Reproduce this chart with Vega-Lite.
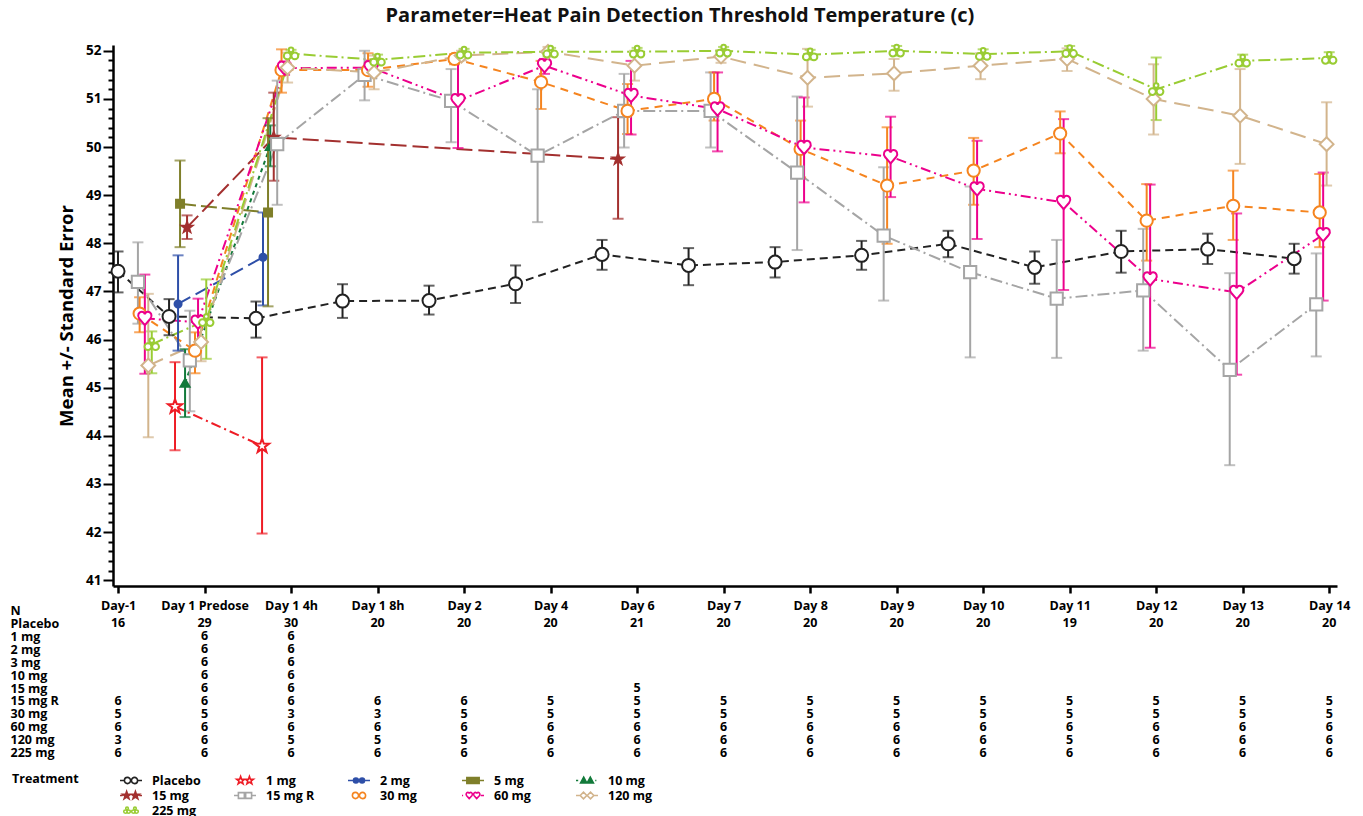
{
"$schema": "https://vega.github.io/schema/vega-lite/v6.json",
"padding": {"left": 10, "top": 5, "right": 10, "bottom": 0},
"title": {"text": "Parameter=Heat Pain Detection Threshold Temperature (c)", "font": "Open Sans", "fontSize": 20, "fontWeight": "bold", "color": "#111", "anchor": "middle", "offset": 15},
"config": {"view": {"stroke": null}, "font": "Open Sans", "axis": {"domainColor": "black", "tickColor": "black", "labelColor": "black", "titleColor": "black", "grid": false}},
"datasets": {
"pts": [
{"trt":"Placebo","t":0,"m":47.42,"lo":46.98,"hi":47.83},
{"trt":"Placebo","t":0.59,"m":46.48,"lo":46.09,"hi":46.84},
{"trt":"Placebo","t":1.595,"m":46.44,"lo":46.04,"hi":46.79},
{"trt":"Placebo","t":2.595,"m":46.8,"lo":46.45,"hi":47.15},
{"trt":"Placebo","t":3.595,"m":46.81,"lo":46.52,"hi":47.12},
{"trt":"Placebo","t":4.595,"m":47.16,"lo":46.76,"hi":47.54},
{"trt":"Placebo","t":5.595,"m":47.77,"lo":47.45,"hi":48.07},
{"trt":"Placebo","t":6.595,"m":47.54,"lo":47.13,"hi":47.9},
{"trt":"Placebo","t":7.595,"m":47.61,"lo":47.29,"hi":47.92},
{"trt":"Placebo","t":8.595,"m":47.75,"lo":47.45,"hi":48.05},
{"trt":"Placebo","t":9.595,"m":47.99,"lo":47.71,"hi":48.26},
{"trt":"Placebo","t":10.595,"m":47.5,"lo":47.16,"hi":47.83},
{"trt":"Placebo","t":11.595,"m":47.83,"lo":47.39,"hi":48.26},
{"trt":"Placebo","t":12.595,"m":47.88,"lo":47.57,"hi":48.2},
{"trt":"Placebo","t":13.595,"m":47.68,"lo":47.37,"hi":47.99},
{"trt":"1 mg","t":0.659,"m":44.61,"lo":43.7,"hi":45.53},
{"trt":"1 mg","t":1.665,"m":43.79,"lo":41.97,"hi":45.63},
{"trt":"2 mg","t":0.694,"m":46.74,"lo":45.77,"hi":47.75},
{"trt":"2 mg","t":1.676,"m":47.71,"lo":46.71,"hi":48.64},
{"trt":"5 mg","t":0.717,"m":48.82,"lo":47.92,"hi":49.72},
{"trt":"5 mg","t":1.734,"m":48.64,"lo":46.69,"hi":50.6},
{"trt":"10 mg","t":0.775,"m":45.1,"lo":44.39,"hi":45.8},
{"trt":"10 mg","t":1.76,"m":50.02,"lo":49.6,"hi":50.45},
{"trt":"15 mg","t":0.798,"m":48.33,"lo":48.09,"hi":48.58},
{"trt":"15 mg","t":1.8,"m":50.2,"lo":49.3,"hi":51.13},
{"trt":"15 mg","t":5.78,"m":49.75,"lo":48.51,"hi":50.62},
{"trt":"15 mg R","t":0.23,"m":47.2,"lo":46.33,"hi":48.02},
{"trt":"15 mg R","t":0.83,"m":45.57,"lo":44.51,"hi":46.6},
{"trt":"15 mg R","t":1.84,"m":50.06,"lo":48.8,"hi":51.38},
{"trt":"15 mg R","t":2.85,"m":51.5,"lo":50.97,"hi":52.0},
{"trt":"15 mg R","t":3.85,"m":50.96,"lo":50.1,"hi":51.62},
{"trt":"15 mg R","t":4.85,"m":49.82,"lo":48.44,"hi":51.2},
{"trt":"15 mg R","t":5.85,"m":50.75,"lo":49.99,"hi":51.52},
{"trt":"15 mg R","t":6.85,"m":50.75,"lo":49.99,"hi":51.55},
{"trt":"15 mg R","t":7.85,"m":49.47,"lo":47.86,"hi":51.05},
{"trt":"15 mg R","t":8.85,"m":48.16,"lo":46.81,"hi":49.58},
{"trt":"15 mg R","t":9.85,"m":47.4,"lo":45.63,"hi":49.18},
{"trt":"15 mg R","t":10.85,"m":46.85,"lo":45.62,"hi":48.07},
{"trt":"15 mg R","t":11.85,"m":47.02,"lo":45.77,"hi":48.3},
{"trt":"15 mg R","t":12.85,"m":45.37,"lo":43.39,"hi":47.38},
{"trt":"15 mg R","t":13.85,"m":46.73,"lo":45.65,"hi":47.79},
{"trt":"30 mg","t":0.25,"m":46.54,"lo":46.15,"hi":46.88},
{"trt":"30 mg","t":0.89,"m":45.77,"lo":45.3,"hi":46.15},
{"trt":"30 mg","t":1.89,"m":51.6,"lo":51.13,"hi":52.03},
{"trt":"30 mg","t":2.89,"m":51.6,"lo":51.25,"hi":51.95},
{"trt":"30 mg","t":3.89,"m":51.83,"lo":51.72,"hi":51.93},
{"trt":"30 mg","t":4.89,"m":51.35,"lo":50.79,"hi":51.79},
{"trt":"30 mg","t":5.89,"m":50.75,"lo":50.27,"hi":51.31},
{"trt":"30 mg","t":6.89,"m":51.0,"lo":50.55,"hi":51.55},
{"trt":"30 mg","t":7.89,"m":49.96,"lo":49.37,"hi":50.55},
{"trt":"30 mg","t":8.89,"m":49.2,"lo":47.99,"hi":50.41},
{"trt":"30 mg","t":9.89,"m":49.51,"lo":48.8,"hi":50.19},
{"trt":"30 mg","t":10.89,"m":50.28,"lo":49.87,"hi":50.74},
{"trt":"30 mg","t":11.89,"m":48.47,"lo":47.64,"hi":49.23},
{"trt":"30 mg","t":12.89,"m":48.78,"lo":48.07,"hi":49.51},
{"trt":"30 mg","t":13.89,"m":48.64,"lo":47.92,"hi":49.44},
{"trt":"60 mg","t":0.31,"m":46.44,"lo":45.29,"hi":47.35},
{"trt":"60 mg","t":0.925,"m":46.36,"lo":45.85,"hi":46.85},
{"trt":"60 mg","t":1.925,"m":51.64,"lo":51.5,"hi":51.78},
{"trt":"60 mg","t":2.925,"m":51.65,"lo":51.5,"hi":51.8},
{"trt":"60 mg","t":3.93,"m":50.96,"lo":49.98,"hi":51.79},
{"trt":"60 mg","t":4.93,"m":51.69,"lo":51.52,"hi":51.83},
{"trt":"60 mg","t":5.93,"m":51.07,"lo":50.26,"hi":51.79},
{"trt":"60 mg","t":6.93,"m":50.79,"lo":49.91,"hi":51.55},
{"trt":"60 mg","t":7.93,"m":49.99,"lo":48.85,"hi":51.03},
{"trt":"60 mg","t":8.93,"m":49.8,"lo":48.96,"hi":50.63},
{"trt":"60 mg","t":9.93,"m":49.13,"lo":48.09,"hi":50.13},
{"trt":"60 mg","t":10.93,"m":48.85,"lo":47.03,"hi":50.58},
{"trt":"60 mg","t":11.93,"m":47.26,"lo":45.83,"hi":49.22},
{"trt":"60 mg","t":12.93,"m":46.98,"lo":45.27,"hi":48.62},
{"trt":"60 mg","t":13.93,"m":48.18,"lo":46.81,"hi":49.47},
{"trt":"120 mg","t":0.35,"m":45.46,"lo":43.97,"hi":46.95},
{"trt":"120 mg","t":0.96,"m":45.95,"lo":45.55,"hi":46.35},
{"trt":"120 mg","t":1.96,"m":51.65,"lo":51.34,"hi":51.96},
{"trt":"120 mg","t":2.96,"m":51.55,"lo":51.2,"hi":51.9},
{"trt":"120 mg","t":3.97,"m":51.9,"lo":51.8,"hi":52.0},
{"trt":"120 mg","t":4.97,"m":51.98,"lo":51.88,"hi":52.08},
{"trt":"120 mg","t":5.97,"m":51.69,"lo":51.38,"hi":52.0},
{"trt":"120 mg","t":6.97,"m":51.88,"lo":51.75,"hi":52.01},
{"trt":"120 mg","t":7.97,"m":51.44,"lo":50.84,"hi":52.04},
{"trt":"120 mg","t":8.97,"m":51.53,"lo":51.17,"hi":51.83},
{"trt":"120 mg","t":9.97,"m":51.69,"lo":51.41,"hi":51.95},
{"trt":"120 mg","t":10.97,"m":51.83,"lo":51.58,"hi":52.05},
{"trt":"120 mg","t":11.97,"m":51.0,"lo":50.26,"hi":51.72},
{"trt":"120 mg","t":12.97,"m":50.65,"lo":49.65,"hi":51.62},
{"trt":"120 mg","t":13.97,"m":50.06,"lo":49.2,"hi":50.93},
{"trt":"225 mg","t":0.39,"m":45.9,"lo":45.3,"hi":46.17},
{"trt":"225 mg","t":1.02,"m":46.4,"lo":45.6,"hi":47.25},
{"trt":"225 mg","t":2.0,"m":51.94,"lo":51.86,"hi":52.02},
{"trt":"225 mg","t":3.0,"m":51.81,"lo":51.7,"hi":51.92},
{"trt":"225 mg","t":4.0,"m":51.96,"lo":51.88,"hi":52.04},
{"trt":"225 mg","t":5.0,"m":51.98,"lo":51.9,"hi":52.06},
{"trt":"225 mg","t":6.0,"m":51.98,"lo":51.9,"hi":52.06},
{"trt":"225 mg","t":7.0,"m":52.0,"lo":51.92,"hi":52.08},
{"trt":"225 mg","t":8.0,"m":51.92,"lo":51.82,"hi":52.02},
{"trt":"225 mg","t":9.0,"m":52.0,"lo":51.9,"hi":52.1},
{"trt":"225 mg","t":10.0,"m":51.93,"lo":51.83,"hi":52.03},
{"trt":"225 mg","t":11.0,"m":51.99,"lo":51.88,"hi":52.1},
{"trt":"225 mg","t":12.0,"m":51.2,"lo":50.56,"hi":51.86},
{"trt":"225 mg","t":13.0,"m":51.79,"lo":51.68,"hi":51.92},
{"trt":"225 mg","t":14.0,"m":51.85,"lo":51.75,"hi":51.97}
],
"nt": [
{"r":"Placebo","v":0,"n":16},{"r":"Placebo","v":1,"n":29},{"r":"Placebo","v":2,"n":30},{"r":"Placebo","v":3,"n":20},{"r":"Placebo","v":4,"n":20},{"r":"Placebo","v":5,"n":20},{"r":"Placebo","v":6,"n":21},{"r":"Placebo","v":7,"n":20},{"r":"Placebo","v":8,"n":20},{"r":"Placebo","v":9,"n":20},{"r":"Placebo","v":10,"n":20},{"r":"Placebo","v":11,"n":19},{"r":"Placebo","v":12,"n":20},{"r":"Placebo","v":13,"n":20},{"r":"Placebo","v":14,"n":20},
{"r":"1 mg","v":1,"n":6},{"r":"1 mg","v":2,"n":6},
{"r":"2 mg","v":1,"n":6},{"r":"2 mg","v":2,"n":6},
{"r":"3 mg","v":1,"n":6},{"r":"3 mg","v":2,"n":6},
{"r":"10 mg","v":1,"n":6},{"r":"10 mg","v":2,"n":6},
{"r":"15 mg","v":1,"n":6},{"r":"15 mg","v":2,"n":6},{"r":"15 mg","v":6,"n":5},
{"r":"15 mg R","v":0,"n":6},{"r":"15 mg R","v":1,"n":6},{"r":"15 mg R","v":2,"n":6},{"r":"15 mg R","v":3,"n":6},{"r":"15 mg R","v":4,"n":6},{"r":"15 mg R","v":5,"n":5},{"r":"15 mg R","v":6,"n":5},{"r":"15 mg R","v":7,"n":5},{"r":"15 mg R","v":8,"n":5},{"r":"15 mg R","v":9,"n":5},{"r":"15 mg R","v":10,"n":5},{"r":"15 mg R","v":11,"n":5},{"r":"15 mg R","v":12,"n":5},{"r":"15 mg R","v":13,"n":5},{"r":"15 mg R","v":14,"n":5},
{"r":"30 mg","v":0,"n":5},{"r":"30 mg","v":1,"n":5},{"r":"30 mg","v":2,"n":3},{"r":"30 mg","v":3,"n":3},{"r":"30 mg","v":4,"n":5},{"r":"30 mg","v":5,"n":5},{"r":"30 mg","v":6,"n":5},{"r":"30 mg","v":7,"n":5},{"r":"30 mg","v":8,"n":5},{"r":"30 mg","v":9,"n":5},{"r":"30 mg","v":10,"n":5},{"r":"30 mg","v":11,"n":5},{"r":"30 mg","v":12,"n":5},{"r":"30 mg","v":13,"n":5},{"r":"30 mg","v":14,"n":5},
{"r":"60 mg","v":0,"n":6},{"r":"60 mg","v":1,"n":6},{"r":"60 mg","v":2,"n":6},{"r":"60 mg","v":3,"n":6},{"r":"60 mg","v":4,"n":6},{"r":"60 mg","v":5,"n":6},{"r":"60 mg","v":6,"n":6},{"r":"60 mg","v":7,"n":6},{"r":"60 mg","v":8,"n":6},{"r":"60 mg","v":9,"n":6},{"r":"60 mg","v":10,"n":6},{"r":"60 mg","v":11,"n":6},{"r":"60 mg","v":12,"n":6},{"r":"60 mg","v":13,"n":6},{"r":"60 mg","v":14,"n":6},
{"r":"120 mg","v":0,"n":3},{"r":"120 mg","v":1,"n":6},{"r":"120 mg","v":2,"n":5},{"r":"120 mg","v":3,"n":5},{"r":"120 mg","v":4,"n":5},{"r":"120 mg","v":5,"n":6},{"r":"120 mg","v":6,"n":6},{"r":"120 mg","v":7,"n":6},{"r":"120 mg","v":8,"n":6},{"r":"120 mg","v":9,"n":6},{"r":"120 mg","v":10,"n":6},{"r":"120 mg","v":11,"n":5},{"r":"120 mg","v":12,"n":6},{"r":"120 mg","v":13,"n":6},{"r":"120 mg","v":14,"n":6},
{"r":"225 mg","v":0,"n":6},{"r":"225 mg","v":1,"n":6},{"r":"225 mg","v":2,"n":6},{"r":"225 mg","v":3,"n":6},{"r":"225 mg","v":4,"n":6},{"r":"225 mg","v":5,"n":6},{"r":"225 mg","v":6,"n":6},{"r":"225 mg","v":7,"n":6},{"r":"225 mg","v":8,"n":6},{"r":"225 mg","v":9,"n":6},{"r":"225 mg","v":10,"n":6},{"r":"225 mg","v":11,"n":6},{"r":"225 mg","v":12,"n":6},{"r":"225 mg","v":13,"n":6},{"r":"225 mg","v":14,"n":6}
],
"leg": [{"trt":"Placebo"},{"trt":"1 mg"},{"trt":"2 mg"},{"trt":"5 mg"},{"trt":"10 mg"},{"trt":"15 mg"},{"trt":"15 mg R"},{"trt":"30 mg"},{"trt":"60 mg"},{"trt":"120 mg"},{"trt":"225 mg"}]
},
"vconcat": [
{
"width": 1224, "height": 541,
"data": {"name": "pts"},
"layer": [
{
"mark": {"type": "line", "strokeWidth": 2},
"encoding": {
"x": {"field": "t", "type": "quantitative", "title": "N", "scale": {"domain": [-0.058, 14.09], "nice": false, "zero": false},
 "axis": {"values": [0,1,2,3,4,5,6,7,8,9,10,11,12,13,14], "labelExpr": "['Day-1','Day 1 Predose','Day 1 4h','Day 1 8h','Day 2','Day 4','Day 6','Day 7','Day 8','Day 9','Day 10','Day 11','Day 12','Day 13','Day 14'][datum.value]", "labelFlush": false, "labelOverlap": false, "labelFont": "Open Sans", "labelFontSize": 12.5, "labelFontWeight": "bold", "labelPadding": 6, "tickSize": 7, "tickWidth": 2.5, "domainWidth": 2.5, "titleFont": "Open Sans", "titleFontSize": 12.5, "titleFontWeight": "bold", "titleX": -103, "titleY": 24, "titleAlign": "left", "titleBaseline": "middle", "titleAnchor": "start"}},
"y": {"field": "m", "type": "quantitative", "title": "Mean +/- Standard Error", "scale": {"domain": [40.88, 52.12], "nice": false, "zero": false},
 "axis": {"values": [41,41.2,41.4,41.6,41.8,42,42.2,42.4,42.6,42.8,43,43.2,43.4,43.6,43.8,44,44.2,44.4,44.6,44.8,45,45.2,45.4,45.6,45.8,46,46.2,46.4,46.6,46.8,47,47.2,47.4,47.6,47.8,48,48.2,48.4,48.6,48.8,49,49.2,49.4,49.6,49.8,50,50.2,50.4,50.6,50.8,51,51.2,51.4,51.6,51.8,52], "labelExpr": "datum.value % 1 === 0 ? format(datum.value, 'd') : ''", "labelFlush": false, "labelOverlap": false, "labelFont": "Open Sans", "labelFontSize": 13.5, "labelFontWeight": "bold", "labelPadding": 2, "tickSize": {"condition": {"test": "datum.value % 1 === 0", "value": 10}, "value": 5}, "tickWidth": 2, "domainWidth": 2.5, "titleFont": "Open Sans", "titleFontSize": 18.5, "titleFontWeight": "bold", "titlePadding": 9}},
"color": {"field": "trt", "type": "nominal", "legend": null, "scale": {"domain": ["Placebo","1 mg","2 mg","5 mg","10 mg","15 mg","15 mg R","30 mg","60 mg","120 mg","225 mg"], "range": ["#222222","#ee1c25","#2e4fa8","#7f7f2a","#127a3a","#a3302f","#a5a5a5","#f5841f","#ec008c","#d2b48c","#99cc33"]}},
"strokeDash": {"field": "trt", "type": "nominal", "legend": null, "scale": {"domain": ["Placebo","1 mg","2 mg","5 mg","10 mg","15 mg","15 mg R","30 mg","60 mg","120 mg","225 mg"], "range": [[8,5],[10,4,2,4],[14,6],[16,5],[4,4],[16,6],[12,4,2,4],[8,6],[10,4,2,4,2,4],[16,8],[12,4,2,4]]}}
}
},
{
"mark": {"type": "errorbar", "ticks": true, "size": 11, "thickness": 2},
"encoding": {
"x": {"field": "t", "type": "quantitative", "title": "N",
 "axis": {"values": [0,1,2,3,4,5,6,7,8,9,10,11,12,13,14], "labelExpr": "['Day-1','Day 1 Predose','Day 1 4h','Day 1 8h','Day 2','Day 4','Day 6','Day 7','Day 8','Day 9','Day 10','Day 11','Day 12','Day 13','Day 14'][datum.value]", "labelFlush": false, "labelOverlap": false, "labelFont": "Open Sans", "labelFontSize": 12.5, "labelFontWeight": "bold", "labelPadding": 6, "tickSize": 7, "tickWidth": 2.5, "domainWidth": 2.5, "titleFont": "Open Sans", "titleFontSize": 12.5, "titleFontWeight": "bold", "titleX": -103, "titleY": 24, "titleAlign": "left", "titleBaseline": "middle", "titleAnchor": "start"}},
"y": {"field": "lo", "type": "quantitative", "title": "Mean +/- Standard Error",
 "axis": {"values": [41,41.2,41.4,41.6,41.8,42,42.2,42.4,42.6,42.8,43,43.2,43.4,43.6,43.8,44,44.2,44.4,44.6,44.8,45,45.2,45.4,45.6,45.8,46,46.2,46.4,46.6,46.8,47,47.2,47.4,47.6,47.8,48,48.2,48.4,48.6,48.8,49,49.2,49.4,49.6,49.8,50,50.2,50.4,50.6,50.8,51,51.2,51.4,51.6,51.8,52], "labelExpr": "datum.value % 1 === 0 ? format(datum.value, 'd') : ''", "labelFlush": false, "labelOverlap": false, "labelFont": "Open Sans", "labelFontSize": 13.5, "labelFontWeight": "bold", "labelPadding": 2, "tickSize": {"condition": {"test": "datum.value % 1 === 0", "value": 10}, "value": 5}, "tickWidth": 2, "domainWidth": 2.5, "titleFont": "Open Sans", "titleFontSize": 18.5, "titleFontWeight": "bold", "titlePadding": 9}},
"y2": {"field": "hi"},
"color": {"field": "trt", "type": "nominal", "legend": null}
}
},
{
"mark": {"type": "point", "strokeWidth": 2, "opacity": 1},
"encoding": {
"x": {"field": "t", "type": "quantitative", "title": "N",
 "axis": {"values": [0,1,2,3,4,5,6,7,8,9,10,11,12,13,14], "labelExpr": "['Day-1','Day 1 Predose','Day 1 4h','Day 1 8h','Day 2','Day 4','Day 6','Day 7','Day 8','Day 9','Day 10','Day 11','Day 12','Day 13','Day 14'][datum.value]", "labelFlush": false, "labelOverlap": false, "labelFont": "Open Sans", "labelFontSize": 12.5, "labelFontWeight": "bold", "labelPadding": 6, "tickSize": 7, "tickWidth": 2.5, "domainWidth": 2.5, "titleFont": "Open Sans", "titleFontSize": 12.5, "titleFontWeight": "bold", "titleX": -103, "titleY": 24, "titleAlign": "left", "titleBaseline": "middle", "titleAnchor": "start"}},
"y": {"field": "m", "type": "quantitative", "title": "Mean +/- Standard Error",
 "axis": {"values": [41,41.2,41.4,41.6,41.8,42,42.2,42.4,42.6,42.8,43,43.2,43.4,43.6,43.8,44,44.2,44.4,44.6,44.8,45,45.2,45.4,45.6,45.8,46,46.2,46.4,46.6,46.8,47,47.2,47.4,47.6,47.8,48,48.2,48.4,48.6,48.8,49,49.2,49.4,49.6,49.8,50,50.2,50.4,50.6,50.8,51,51.2,51.4,51.6,51.8,52], "labelExpr": "datum.value % 1 === 0 ? format(datum.value, 'd') : ''", "labelFlush": false, "labelOverlap": false, "labelFont": "Open Sans", "labelFontSize": 13.5, "labelFontWeight": "bold", "labelPadding": 2, "tickSize": {"condition": {"test": "datum.value % 1 === 0", "value": 10}, "value": 5}, "tickWidth": 2, "domainWidth": 2.5, "titleFont": "Open Sans", "titleFontSize": 18.5, "titleFontWeight": "bold", "titlePadding": 9}},
"stroke": {"field": "trt", "type": "nominal", "legend": null, "scale": {"domain": ["Placebo","1 mg","2 mg","5 mg","10 mg","15 mg","15 mg R","30 mg","60 mg","120 mg","225 mg"], "range": ["#222222","#ee1c25","#2e4fa8","#7f7f2a","#127a3a","#a3302f","#a5a5a5","#f5841f","#ec008c","#d2b48c","#99cc33"]}},
"fill": {"field": "trt", "type": "nominal", "legend": null, "scale": {"domain": ["Placebo","1 mg","2 mg","5 mg","10 mg","15 mg","15 mg R","30 mg","60 mg","120 mg","225 mg"], "range": ["#ffffff","#ffffff","#2e4fa8","#7f7f2a","#127a3a","#a3302f","#ffffff","#ffffff","#ffffff","#ffffff","#ffffff"]}},
"shape": {"field": "trt", "type": "nominal", "legend": null, "scale": {"domain": ["Placebo","1 mg","2 mg","5 mg","10 mg","15 mg","15 mg R","30 mg","60 mg","120 mg","225 mg"], "range": ["circle","M0,-1L0.235,-0.324L0.951,-0.309L0.38,0.124L0.588,0.809L0,0.4L-0.588,0.809L-0.38,0.124L-0.951,-0.309L-0.235,-0.324Z","circle","square","triangle-up","M0,-1L0.235,-0.324L0.951,-0.309L0.38,0.124L0.588,0.809L0,0.4L-0.588,0.809L-0.38,0.124L-0.951,-0.309L-0.235,-0.324Z","square","circle","M0,0.95L-0.78,0.05C-1.15,-0.4 -0.85,-0.95 -0.42,-0.95C-0.18,-0.95 -0.05,-0.8 0,-0.6C0.05,-0.8 0.18,-0.95 0.42,-0.95C0.85,-0.95 1.15,-0.4 0.78,0.05Z","diamond","M-0.95,0.3A0.45,0.45 0 1 0 -0.05,0.3A0.45,0.45 0 1 0 -0.95,0.3ZM0.05,0.3A0.45,0.45 0 1 0 0.95,0.3A0.45,0.45 0 1 0 0.05,0.3ZM-0.3,-0.5A0.3,0.3 0 1 0 0.3,-0.5A0.3,0.3 0 1 0 -0.3,-0.5Z"]}},
"size": {"field": "trt", "type": "nominal", "legend": null, "scale": {"type": "ordinal", "domain": ["Placebo","1 mg","2 mg","5 mg","10 mg","15 mg","15 mg R","30 mg","60 mg","120 mg","225 mg"], "range": [170,220,50,64,80,120,150,150,200,190,230]}}
}
}
]
},
{
"width": 1224, "height": 142,
"layer": [
{
"data": {"name": "nt"},
"mark": {"type": "text", "font": "Open Sans", "fontSize": 12.5, "fontWeight": "bold", "color": "black"},
"encoding": {
"x": {"field": "v", "type": "quantitative", "scale": {"domain": [-0.058, 14.09], "nice": false, "zero": false}, "axis": null},
"y": {"field": "r", "type": "ordinal", "sort": ["Placebo","1 mg","2 mg","3 mg","10 mg","15 mg","15 mg R","30 mg","60 mg","120 mg","225 mg"], "scale": {"type": "point", "domain": ["Placebo","1 mg","2 mg","3 mg","10 mg","15 mg","15 mg R","30 mg","60 mg","120 mg","225 mg"], "padding": 0.5}, "axis": {"title": null, "domain": false, "ticks": false, "labelAlign": "left", "labelPadding": 103, "labelFont": "Open Sans", "labelFontSize": 12.5, "labelFontWeight": "bold", "labelColor": "black", "labelOverlap": false}},
"text": {"field": "n", "type": "quantitative"}
}
},
{
"data": {"name": "leg"},
"mark": {"type": "point", "opacity": 0, "strokeWidth": 1.6},
"encoding": {
"stroke": {"field": "trt", "type": "nominal", "scale": {"domain": ["Placebo","1 mg","2 mg","5 mg","10 mg","15 mg","15 mg R","30 mg","60 mg","120 mg","225 mg"], "range": ["#222222","#ee1c25","#2e4fa8","#7f7f2a","#127a3a","#a3302f","#a5a5a5","#f5841f","#ec008c","#d2b48c","#99cc33"]},
 "legend": {"orient": "none", "legendX": -101, "legendY": 156, "direction": "horizontal", "title": "Treatment", "titleOrient": "left", "titleAnchor": "start", "titlePadding": 40, "columns": 5, "gridAlign": "all", "columnPadding": 32, "rowPadding": 0, "clipHeight": 15, "symbolSize": 484, "symbolStrokeWidth": 1.6, "symbolOpacity": 1, "labelFont": "Open Sans", "labelFontSize": 12.5, "labelFontWeight": "bold", "labelColor": "black", "labelOffset": 9, "titleFont": "Open Sans", "titleFontSize": 12.5, "titleFontWeight": "bold", "titleColor": "black"}},
"fill": {"field": "trt", "type": "nominal", "scale": {"domain": ["Placebo","1 mg","2 mg","5 mg","10 mg","15 mg","15 mg R","30 mg","60 mg","120 mg","225 mg"], "range": ["#ffffff","#ffffff","#2e4fa8","#7f7f2a","#127a3a","#a3302f","#ffffff","#ffffff","#ffffff","#ffffff","#ffffff"]},
 "legend": {"orient": "none", "legendX": -101, "legendY": 156, "direction": "horizontal", "title": "Treatment", "titleOrient": "left", "titleAnchor": "start", "titlePadding": 40, "columns": 5, "gridAlign": "all", "columnPadding": 32, "rowPadding": 0, "clipHeight": 15, "symbolSize": 484, "symbolStrokeWidth": 1.6, "symbolOpacity": 1, "labelFont": "Open Sans", "labelFontSize": 12.5, "labelFontWeight": "bold", "labelColor": "black", "labelOffset": 9, "titleFont": "Open Sans", "titleFontSize": 12.5, "titleFontWeight": "bold", "titleColor": "black"}},
"shape": {"field": "trt", "type": "nominal", "scale": {"domain": ["Placebo","1 mg","2 mg","5 mg","10 mg","15 mg","15 mg R","30 mg","60 mg","120 mg","225 mg"], "range": [
"M-1,0L-0.6,0M0.6,0L1,0M-0.6,0A0.28,0.28 0 1 0 -0.04,0A0.28,0.28 0 1 0 -0.6,0ZM0.04,0A0.28,0.28 0 1 0 0.6,0A0.28,0.28 0 1 0 0.04,0Z",
"M-0.4,-0.38L-0.311,-0.123L-0.039,-0.117L-0.256,0.047L-0.177,0.307L-0.4,0.152L-0.623,0.307L-0.544,0.047L-0.761,-0.117L-0.489,-0.123ZM0.4,-0.38L0.489,-0.123L0.761,-0.117L0.544,0.047L0.623,0.307L0.4,0.152L0.177,0.307L0.256,0.047L0.039,-0.117L0.311,-0.123Z",
"M-1,0L-0.5,0M0.5,0L1,0M-0.5,0A0.22,0.22 0 1 0 -0.06,0A0.22,0.22 0 1 0 -0.5,0ZM0.06,0A0.22,0.22 0 1 0 0.5,0A0.22,0.22 0 1 0 0.06,0Z",
"M-1,0L-0.56,0M0.56,0L1,0M-0.56,-0.26L-0.04,-0.26L-0.04,0.26L-0.56,0.26ZM0.04,-0.26L0.56,-0.26L0.56,0.26L0.04,0.26Z",
"M-1,0L-0.8,0M0.75,0L0.85,0M-0.58,0.22L-0.3,-0.3L-0.02,0.22ZM0.02,0.22L0.3,-0.3L0.58,0.22Z",
"M-1,0L-0.76,0M0.76,0L1,0M-0.4,-0.38L-0.311,-0.123L-0.039,-0.117L-0.256,0.047L-0.177,0.307L-0.4,0.152L-0.623,0.307L-0.544,0.047L-0.761,-0.117L-0.489,-0.123ZM0.4,-0.38L0.489,-0.123L0.761,-0.117L0.544,0.047L0.623,0.307L0.4,0.152L0.177,0.307L0.256,0.047L0.039,-0.117L0.311,-0.123Z",
"M-1,0L-0.6,0M0.6,0L1,0M-0.6,-0.26L-0.06,-0.26L-0.06,0.26L-0.6,0.26ZM0.06,-0.26L0.6,-0.26L0.6,0.26L0.06,0.26Z",
"M-0.6,0A0.28,0.28 0 1 0 -0.04,0A0.28,0.28 0 1 0 -0.6,0ZM0.04,0A0.28,0.28 0 1 0 0.6,0A0.28,0.28 0 1 0 0.04,0Z",
"M-1,0L-0.9,0M0.7,0L1,0M-0.34,0.285L-0.574,0.015C-0.685,-0.12 -0.595,-0.285 -0.466,-0.285C-0.394,-0.285 -0.355,-0.24 -0.34,-0.18C-0.325,-0.24 -0.286,-0.285 -0.214,-0.285C-0.085,-0.285 0.005,-0.12 -0.106,0.015ZM0.34,0.285L0.106,0.015C-0.005,-0.12 0.085,-0.285 0.214,-0.285C0.286,-0.285 0.325,-0.24 0.34,-0.18C0.355,-0.24 0.394,-0.285 0.466,-0.285C0.595,-0.285 0.685,-0.12 0.574,0.015Z",
"M-1,0L-0.62,0M0.62,0L1,0M-0.62,0L-0.32,-0.3L-0.02,0L-0.32,0.3ZM0.02,0L0.32,-0.3L0.62,0L0.32,0.3Z",
"M-0.66,0.1A0.15,0.15 0 1 0 -0.36,0.1A0.15,0.15 0 1 0 -0.66,0.1ZM-0.36,0.1A0.15,0.15 0 1 0 -0.06,0.1A0.15,0.15 0 1 0 -0.36,0.1ZM-0.48,-0.2A0.12,0.12 0 1 0 -0.24,-0.2A0.12,0.12 0 1 0 -0.48,-0.2ZM0.06,0.1A0.15,0.15 0 1 0 0.36,0.1A0.15,0.15 0 1 0 0.06,0.1ZM0.36,0.1A0.15,0.15 0 1 0 0.66,0.1A0.15,0.15 0 1 0 0.36,0.1ZM0.24,-0.2A0.12,0.12 0 1 0 0.48,-0.2A0.12,0.12 0 1 0 0.24,-0.2Z"
]},
 "legend": {"orient": "none", "legendX": -101, "legendY": 156, "direction": "horizontal", "title": "Treatment", "titleOrient": "left", "titleAnchor": "start", "titlePadding": 40, "columns": 5, "gridAlign": "all", "columnPadding": 32, "rowPadding": 0, "clipHeight": 15, "symbolSize": 484, "symbolStrokeWidth": 1.6, "symbolOpacity": 1, "labelFont": "Open Sans", "labelFontSize": 12.5, "labelFontWeight": "bold", "labelColor": "black", "labelOffset": 9, "titleFont": "Open Sans", "titleFontSize": 12.5, "titleFontWeight": "bold", "titleColor": "black"}}
}
}
]
}
],
"spacing": 0,
"resolve": {"scale": {"x": "independent", "y": "independent", "color": "independent", "stroke": "independent", "fill": "independent", "shape": "independent", "size": "independent", "strokeDash": "independent"}}
}
